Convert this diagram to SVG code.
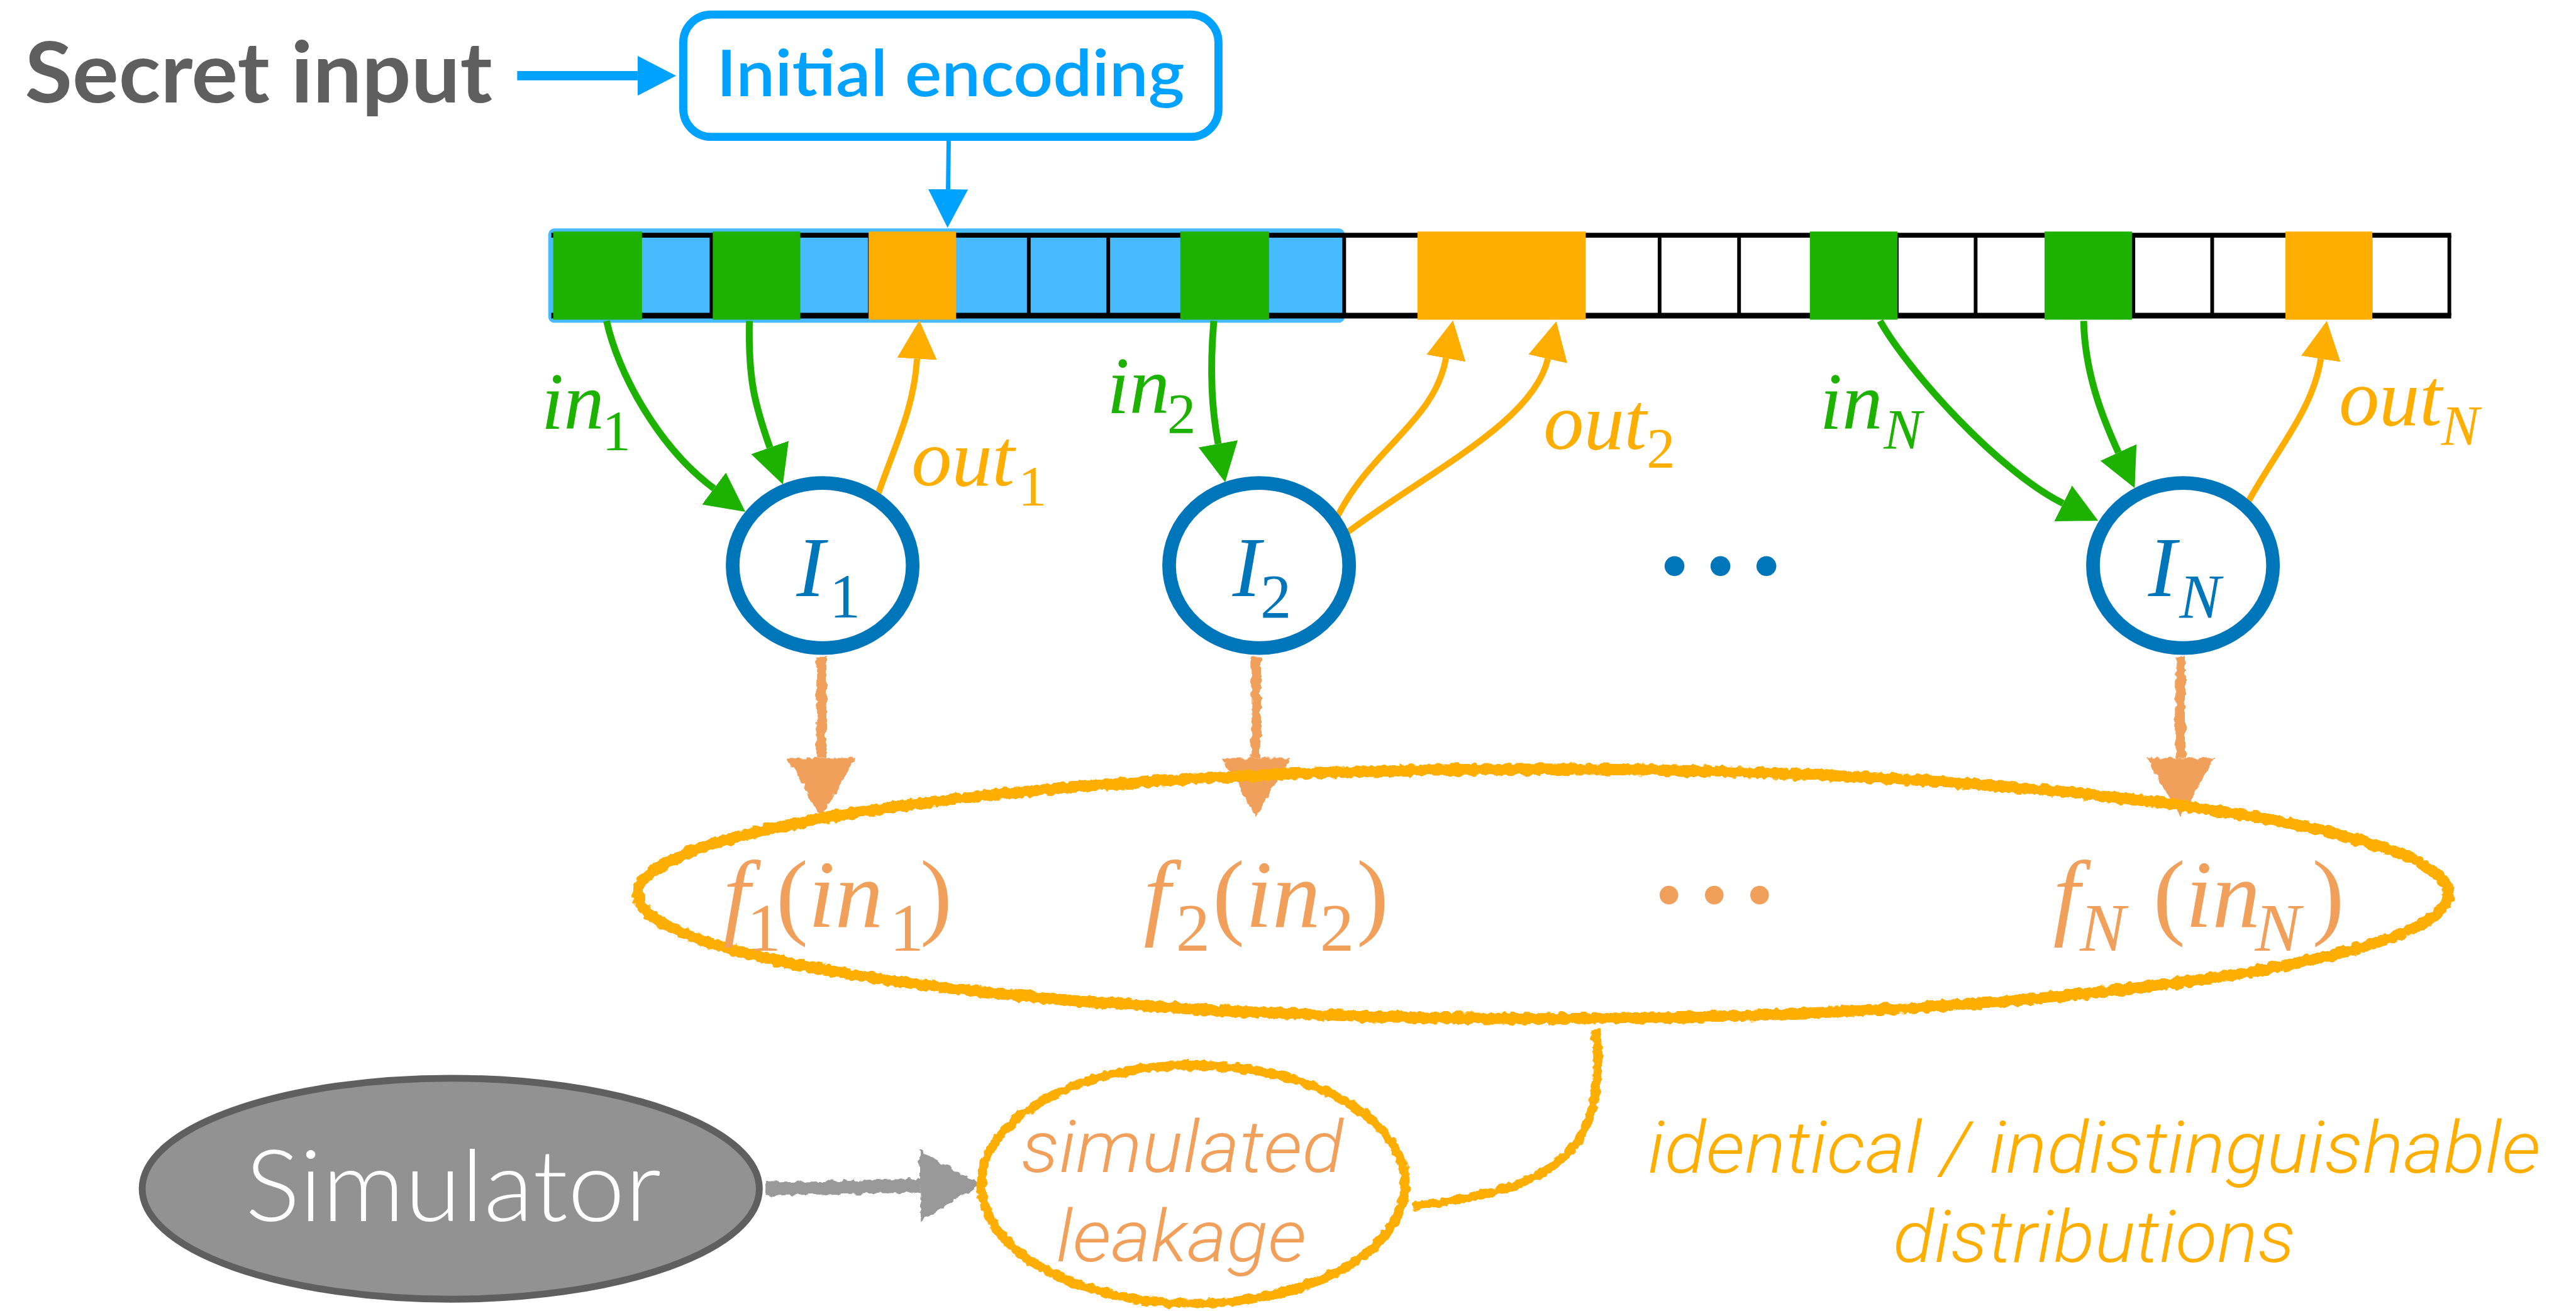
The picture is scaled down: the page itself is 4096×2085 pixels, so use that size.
<svg xmlns="http://www.w3.org/2000/svg" width="4096" height="2085" viewBox="0 0 4096 2085">
<defs>
<style>
.serif{font-family:"Liberation Serif","DejaVu Serif",serif;}
.it{font-style:italic;}
.sans{font-family:Lato,"Open Sans","Liberation Sans",sans-serif;}
.lite{font-family:Roboto,"Liberation Sans",sans-serif;font-weight:300;font-style:italic;}
.green{fill:#1db100;}
.orange{fill:#fdae00;}
.peach{fill:#f0a05a;}
.nodeblue{fill:#0076ba;}
.cellline{stroke:#000;stroke-width:6;}
.edge-g{fill:none;stroke:#1db100;stroke-width:11;}
.edge-o{fill:none;stroke:#fdae00;stroke-width:10;}
.inode{fill:#fff;stroke:#0076ba;stroke-width:22;}
</style>
<marker id="hg" markerUnits="userSpaceOnUse" viewBox="0 0 64 64" markerWidth="64" markerHeight="64" refX="0" refY="32" orient="auto"><path d="M0,0 L63,32 L0,64 z" fill="#1db100"/></marker>
<marker id="ho" markerUnits="userSpaceOnUse" viewBox="0 0 64 64" markerWidth="64" markerHeight="64" refX="0" refY="32" orient="auto"><path d="M0,0 L62,32 L0,64 z" fill="#fdae00"/></marker>
<marker id="hb" markerUnits="userSpaceOnUse" viewBox="0 0 64 64" markerWidth="64" markerHeight="64" refX="0" refY="32" orient="auto"><path d="M0,0 L62,32 L0,64 z" fill="#00a2ff"/></marker>
<marker id="hgr" markerUnits="userSpaceOnUse" viewBox="0 0 98 114" markerWidth="98" markerHeight="114" refX="0" refY="57" orient="auto"><path d="M0,0 L97,57 L0,114 z" fill="#999999"/></marker>
<marker id="hp" markerUnits="userSpaceOnUse" viewBox="0 0 96 110" markerWidth="96" markerHeight="110" refX="0" refY="55" orient="auto"><path d="M0,0 L95,55 L0,110 z" fill="#f0a05a"/></marker>
<filter id="rough" filterUnits="userSpaceOnUse" x="0" y="0" width="4200" height="2200">
<feTurbulence type="fractalNoise" baseFrequency="0.09" numOctaves="2" seed="4" result="n"/>
<feDisplacementMap in="SourceGraphic" in2="n" scale="10" xChannelSelector="R" yChannelSelector="G"/>
</filter>
</defs>
<rect width="4096" height="2085" fill="#fff"/>
<g transform="scale(0.98723)">

<g id="secret-input">
<text class="sans" x="40" y="165" font-size="135" font-weight="700" fill="#5f5f5f" textLength="753" lengthAdjust="spacingAndGlyphs">Secret input</text>
</g>

<g id="initial-encoding">
<rect x="1100.5" y="23.5" width="862" height="197" rx="45" fill="#fff" stroke="#00a2ff" stroke-width="13"/>
<text class="sans" x="1154" y="155" font-size="104" font-weight="600" fill="#00a2ff" textLength="754" lengthAdjust="spacingAndGlyphs">Initial encoding</text>
</g>

<g id="memory">
<rect x="883" y="368" width="1283" height="152" rx="10" fill="#48bbff"/>
<line x1="888" y1="379" x2="3948" y2="379" stroke="#000" stroke-width="8"/>
<line x1="888" y1="508.5" x2="3948" y2="508.5" stroke="#000" stroke-width="9"/>
<g class="cellline">
<line x1="1019" y1="379" x2="1019" y2="508"/>
<line x1="1146" y1="379" x2="1146" y2="508"/>
<line x1="1274" y1="379" x2="1274" y2="508"/>
<line x1="1401" y1="379" x2="1401" y2="508"/>
<line x1="1528" y1="379" x2="1528" y2="508"/>
<line x1="1657" y1="379" x2="1657" y2="508"/>
<line x1="1785" y1="379" x2="1785" y2="508"/>
<line x1="1910" y1="379" x2="1910" y2="508"/>
<line x1="2037" y1="379" x2="2037" y2="508"/>
<line x1="2165" y1="379" x2="2165" y2="508"/>
<line x1="2291" y1="379" x2="2291" y2="508"/>
<line x1="2418" y1="379" x2="2418" y2="508"/>
<line x1="2546" y1="379" x2="2546" y2="508"/>
<line x1="2673" y1="379" x2="2673" y2="508"/>
<line x1="2801" y1="379" x2="2801" y2="508"/>
<line x1="2927" y1="379" x2="2927" y2="508"/>
<line x1="3055" y1="379" x2="3055" y2="508"/>
<line x1="3182" y1="379" x2="3182" y2="508"/>
<line x1="3309" y1="379" x2="3309" y2="508"/>
<line x1="3436" y1="379" x2="3436" y2="508"/>
<line x1="3563" y1="379" x2="3563" y2="508"/>
<line x1="3690" y1="379" x2="3690" y2="508"/>
<line x1="3818" y1="379" x2="3818" y2="508"/>
<line x1="3945" y1="379" x2="3945" y2="508"/>
</g>
<rect x="891" y="373" width="143" height="142" fill="#1db100"/>
<rect x="1148" y="373" width="141" height="142" fill="#1db100"/>
<rect x="1399" y="373" width="141" height="142" fill="#fdae00"/>
<rect x="1901" y="373" width="143" height="142" fill="#1db100"/>
<rect x="2283" y="373" width="271" height="142" fill="#fdae00"/>
<rect x="2915" y="373" width="141" height="142" fill="#1db100"/>
<rect x="3293" y="373" width="141" height="142" fill="#1db100"/>
<rect x="3681" y="373" width="140" height="142" fill="#fdae00"/>
</g>

<g id="connectors">
<path d="M833,122 L1027,122" fill="none" stroke="#00a2ff" stroke-width="15" marker-end="url(#hb)"/>
<path d="M1528,227 L1527,305" fill="none" stroke="#00a2ff" stroke-width="7" marker-end="url(#hb)"/>
<path class="edge-g" d="M977,517 C995,600 1060,720 1150,787" marker-end="url(#hg)"/>
<path class="edge-g" d="M1207,517 C1205,610 1215,650 1240,721" marker-end="url(#hg)"/>
<path class="edge-g" d="M1955,517 C1948,600 1952,660 1962,715" marker-end="url(#hg)"/>
<path class="edge-g" d="M3028,517 C3075,600 3220,760 3323,811" marker-end="url(#hg)"/>
<path class="edge-g" d="M3356,517 C3358,600 3385,670 3412,729" marker-end="url(#hg)"/>
<path class="edge-o" d="M1413,800 C1440,720 1472,660 1477,578" marker-end="url(#ho)"/>
<path class="edge-o" d="M2153,834 C2210,720 2310,680 2329,577" marker-end="url(#ho)"/>
<path class="edge-o" d="M2171,857 C2300,760 2470,680 2493,578" marker-end="url(#ho)"/>
<path class="edge-o" d="M3620,810 C3670,720 3725,660 3738,578" marker-end="url(#ho)"/>
<g filter="url(#rough)">
<path d="M1323,1058 L1323,1221" fill="none" stroke="#f0a05a" stroke-width="16" marker-end="url(#hp)"/>
<path d="M2023,1058 L2023,1221" fill="none" stroke="#f0a05a" stroke-width="16" marker-end="url(#hp)"/>
<path d="M3512,1058 L3512,1221" fill="none" stroke="#f0a05a" stroke-width="16" marker-end="url(#hp)"/>
<path d="M1233,1915 L1482,1910" fill="none" stroke="#999999" stroke-width="22" marker-end="url(#hgr)"/>
<path d="M2571,1658 C2585,1830 2540,1915 2276,1943" fill="none" stroke="#fdae00" stroke-width="14"/>
</g>
</g>

<g id="edge-labels" class="serif">
<text font-size="130" class="green"><tspan x="872" y="691" class="it">in</tspan><tspan x="970" y="725" font-size="92">1</tspan></text>
<text font-size="130" class="orange"><tspan x="1468" y="782" class="it">out</tspan><tspan x="1640" y="814" font-size="92">1</tspan></text>
<text font-size="130" class="green"><tspan x="1783" y="665" class="it">in</tspan><tspan x="1880" y="698" font-size="92">2</tspan></text>
<text font-size="130" class="orange"><tspan x="2486" y="723" class="it">out</tspan><tspan x="2652" y="754" font-size="92">2</tspan></text>
<text font-size="130" class="green"><tspan x="2931" y="691" class="it">in</tspan><tspan x="3034" y="723" font-size="92" class="it">N</tspan></text>
<text font-size="130" class="orange"><tspan x="3767" y="685" class="it">out</tspan><tspan x="3932" y="717" font-size="92" class="it">N</tspan></text>
</g>

<g id="node-I1">
<ellipse class="inode" cx="1325" cy="911" rx="145" ry="133"/>
<text class="serif nodeblue" font-size="137"><tspan x="1283" y="960" class="it">I</tspan><tspan x="1336" y="995" font-size="100">1</tspan></text>
</g>
<g id="node-I2">
<ellipse class="inode" cx="2028" cy="911" rx="145" ry="133"/>
<text class="serif nodeblue" font-size="137"><tspan x="1985" y="960" class="it">I</tspan><tspan x="2030" y="995" font-size="100">2</tspan></text>
</g>
<g id="node-dots" class="nodeblue">
<circle cx="2697" cy="912" r="16"/>
<circle cx="2771" cy="912" r="16"/>
<circle cx="2845" cy="912" r="16"/>
</g>
<g id="node-IN">
<ellipse class="inode" cx="3516" cy="911" rx="145" ry="133"/>
<text class="serif nodeblue" font-size="137"><tspan x="3460" y="960" class="it">I</tspan><tspan x="3510" y="995" font-size="100" class="it">N</tspan></text>
</g>

<g id="leakage">
<ellipse cx="2485" cy="1440" rx="1458" ry="201" fill="none" stroke="#fdae00" stroke-width="18" filter="url(#rough)"/>
<text class="serif peach" font-size="155"><tspan x="1165" y="1493" class="it">f</tspan><tspan x="1203" y="1532" font-size="110">1</tspan><tspan x="1250" y="1493">(</tspan><tspan x="1302" y="1493" class="it">in</tspan><tspan x="1433" y="1532" font-size="110">1</tspan><tspan x="1482" y="1493">)</tspan></text>
<text class="serif peach" font-size="155"><tspan x="1842" y="1493" class="it">f</tspan><tspan x="1894" y="1532" font-size="110">2</tspan><tspan x="1953" y="1493">(</tspan><tspan x="2006" y="1493" class="it">in</tspan><tspan x="2126" y="1532" font-size="110">2</tspan><tspan x="2185" y="1493">)</tspan></text>
<g class="peach">
<circle cx="2688" cy="1442" r="15"/>
<circle cx="2761" cy="1442" r="15"/>
<circle cx="2834" cy="1442" r="15"/>
</g>
<text class="serif peach" font-size="155"><tspan x="3307" y="1493" class="it">f</tspan><tspan x="3350" y="1532" font-size="110" class="it">N</tspan><tspan x="3468" y="1493">(</tspan><tspan x="3520" y="1493" class="it">in</tspan><tspan x="3632" y="1532" font-size="110" class="it">N</tspan><tspan x="3724" y="1493">)</tspan></text>
</g>

<g id="simulator">
<ellipse cx="726" cy="1915" rx="497" ry="178" fill="#929292" stroke="#5f5f5f" stroke-width="11"/>
<text class="sans" x="395" y="1967" font-size="160" font-weight="300" fill="#fff" textLength="670" lengthAdjust="spacingAndGlyphs">Simulator</text>
</g>

<g id="simulated-leakage">
<ellipse cx="1922" cy="1908" rx="341" ry="192" fill="none" stroke="#fdae00" stroke-width="15" filter="url(#rough)"/>
<text class="lite peach" x="1645" y="1888" font-size="116" textLength="519" lengthAdjust="spacingAndGlyphs">simulated</text>
<text class="lite peach" x="1701" y="2032" font-size="116" textLength="403" lengthAdjust="spacingAndGlyphs">leakage</text>
</g>

<g id="identical-label">
<text class="lite orange" x="2654" y="1889" font-size="116" textLength="1438" lengthAdjust="spacingAndGlyphs">identical / indistinguishable</text>
<text class="lite orange" x="3049" y="2033" font-size="116" textLength="648" lengthAdjust="spacingAndGlyphs">distributions</text>
</g>

</g>
</svg>
